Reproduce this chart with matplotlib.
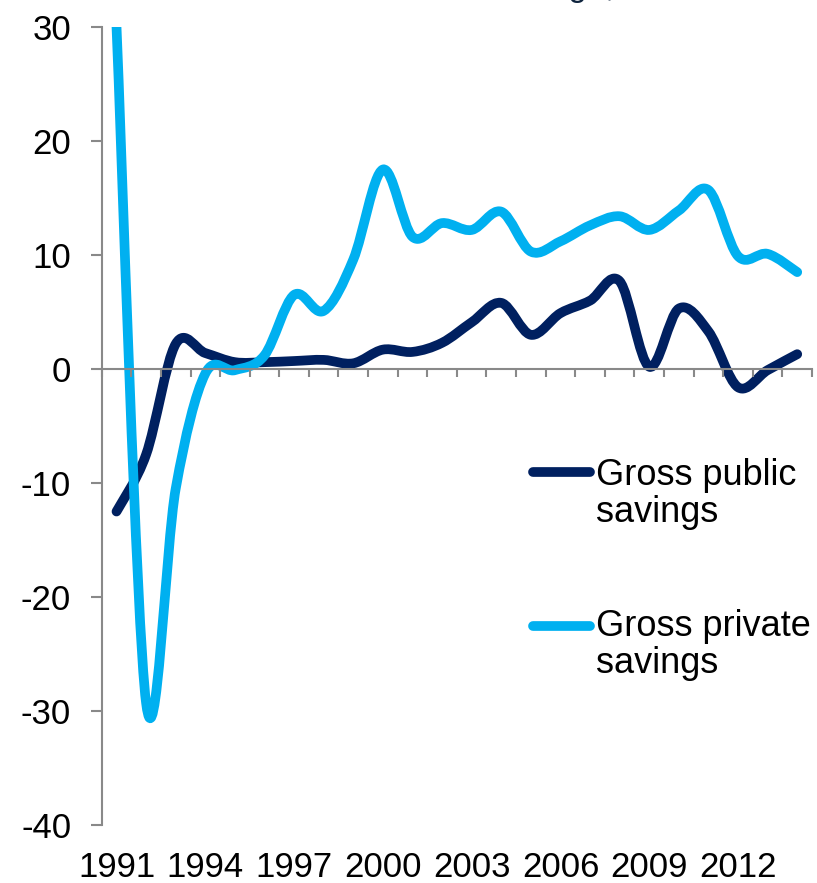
import numpy as np
import matplotlib.pyplot as plt
from matplotlib.path import Path
from matplotlib.patches import PathPatch

plt.rcParams['font.family'] = ['Liberation Sans', 'DejaVu Sans']
plt.rcParams['axes.unicode_minus'] = False

years = list(range(1991, 2015))
public = [-12.5, -7.5, 2.2, 1.4, 0.6, 0.6, 0.7, 0.8, 0.5, 1.7, 1.5, 2.3,
          4.1, 5.8, 3.0, 4.9, 6.0, 7.7, 0.2, 5.3, 3.3, -1.6, -0.1, 1.3]
private = [30.0, -29.3, -10.5, -0.4, -0.1, 1.2, 6.5, 5.1, 9.6, 17.5, 11.6, 12.8,
           12.2, 13.8, 10.3, 11.2, 12.6, 13.4, 12.2, 13.9, 15.7, 9.9, 10.1, 8.5]
labels = ['Gross public\nsavings', 'Gross private\nsavings']
colors = ['#002060', '#00B0F0']
yticks = [-40, -30, -20, -10, 0, 10, 20, 30]
label_years = years[::3]


def smooth_path(xs, ys):
    # excel-like smoothed line: cubic bezier through every point
    pts = np.column_stack([xs, ys]).astype(float)
    n = len(pts)
    verts = [pts[0]]
    codes = [Path.MOVETO]
    for i in range(n - 1):
        p0 = pts[max(i - 1, 0)]
        p1 = pts[i]
        p2 = pts[i + 1]
        p3 = pts[min(i + 2, n - 1)]
        verts += [p1 + (p2 - p0) / 6, p2 - (p3 - p1) / 6, p2]
        codes += [Path.CURVE4] * 3
    return Path(verts, codes)


fig = plt.figure(figsize=(8.17, 8.83), dpi=100)
ax = fig.add_axes([0.1245, 0.0657, 0.8694, 0.9037])

x = np.arange(len(years))
for vals, c in zip([public, private], colors):
    patch = PathPatch(smooth_path(x, vals), facecolor='none', edgecolor=c,
                      lw=7, capstyle='round', joinstyle='round')
    ax.add_patch(patch)

ax.set_xlim(-0.5, len(years) - 0.5)
ax.set_ylim(-40, 30)

grey = '#898989'
for s in ['top', 'right']:
    ax.spines[s].set_visible(False)
ax.spines['left'].set_color(grey)
ax.spines['left'].set_linewidth(1.5)
ax.spines['bottom'].set_position(('data', 0))
ax.spines['bottom'].set_color(grey)
ax.spines['bottom'].set_linewidth(1.5)

ax.set_yticks(yticks)
ax.tick_params(axis='y', length=8, width=1.5, color=grey, pad=14, labelsize=25)
ax.set_xticks(np.arange(len(years) + 1) - 0.5)
ax.tick_params(axis='x', length=6, width=1.5, color=grey, labelbottom=False)

sec = ax.secondary_xaxis(0)
sec.set_xticks([years.index(y) for y in label_years])
sec.set_xticklabels([str(y) for y in label_years])
sec.tick_params(length=0, pad=19, labelsize=25)
sec.spines['bottom'].set_visible(False)

# legend drawn by hand so the line sits at the first text line
for lab, c, ly, ty in zip(labels, colors, [0.4424, 0.2494], [0.3797, 0.1905]):
    ax.plot([0.607, 0.687], [ly, ly], transform=ax.transAxes, color=c, lw=7,
            solid_capstyle='round', clip_on=False)
    ax.text(0.696, ty, lab, transform=ax.transAxes, fontsize=26,
            va='baseline', ha='left', linespacing=1.08)

fig.text(0.68, 1.004, '% change, %', fontsize=24, color='#0F243E',
         ha='center', va='baseline')

fig.savefig('out.png', dpi=100)
